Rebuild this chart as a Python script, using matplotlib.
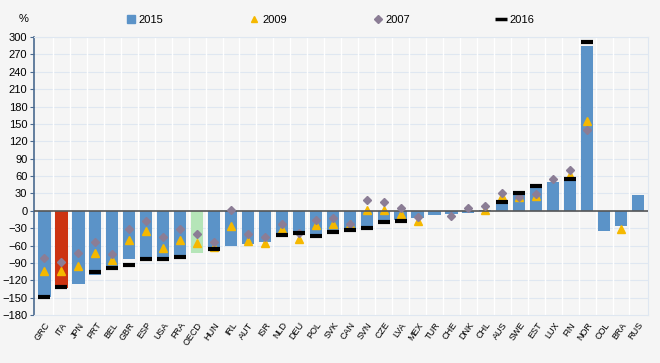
import matplotlib.pyplot as plt
import numpy as np
from matplotlib.lines import Line2D

# Data
countries = ['GRC', 'ITA', 'JPN', 'PRT', 'BEL', 'GBR', 'ESP', 'USA', 'FRA', 'OECD',
    'HUN', 'IRL', 'AUT', 'ISR', 'NLD', 'DEU', 'POL', 'SVK', 'CAN', 'SVN', 'CZE',
    'LVA', 'MEX', 'TUR', 'CHE', 'DNK', 'CHL', 'AUS', 'SWE', 'EST', 'LUX', 'FIN',
    'NOR', 'COL', 'BRA', 'RUS']
v2015 = [-148, -133, -126, -110, -99, -83, -84, -83, -77, -72,
    -68, -60, -58, -53, -42, -39, -41, -35, -32, -26, -20,
    -16, -13, -8, -6, -4, 2, 14, 29, 42, 49, 54,
    285, -34, -27, 27]
v2009 = [-104, -104, -96, -72, -85, -51, -35, -64, -51, -56,
    -62, -26, -52, -56, -31, -48, -24, -23, -23, 1, 2,
    -6, -18, None, None, None, 2, 25, 23, 25, None, 61,
    155, None, -32, None]
v2007 = [-81, -89, -73, -54, -74, -32, -17, -45, -32, -40,
    -53, 1, -40, -45, -23, -38, -15, -13, -23, 19, 16,
    5, -10, None, -9, 5, 8, 30, 23, 29, 55, 71,
    140, None, None, None]
v2016 = [-148, -132, None, -106, -99, -94, -84, -83, -80, None,
    -66, None, None, None, -42, -39, -43, -36, -33, -29, -19,
    -17, None, None, None, None, None, 16, 31, 43, None, 55,
    291, None, None, None]

def arr(v):
    return np.array([np.nan if a is None else a for a in v], dtype=float)

bg = '#f5f5f5'
c_bar = '#5b93c8'
c_tri = '#f5b800'
c_dia = '#8b7d95'

plt.rcParams['font.family'] = ['Liberation Sans', 'DejaVu Sans']

fig = plt.figure(figsize=(6.6, 3.63), dpi=100, facecolor=bg)
ax = fig.add_axes([0.052, 0.132, 0.93, 0.766], facecolor=bg)

x = np.arange(len(countries))
colors = [c_bar] * len(countries)
colors[countries.index('ITA')] = '#cc3311'
colors[countries.index('OECD')] = '#b5e5b8'
ax.bar(x, v2015, width=0.72, color=colors, zorder=2)
ax.plot(x, arr(v2009), '^', color=c_tri, markersize=5.5, zorder=3, linestyle='none')
ax.plot(x, arr(v2007), 'D', color=c_dia, markersize=4.3, zorder=4, linestyle='none')
ax.plot(x, arr(v2016), '_', color='black', markersize=9, markeredgewidth=3,
    zorder=5, linestyle='none')

ax.axhline(0, color='#555555', lw=1.2, zorder=3)
ax.set_ylim(-180, 300)
ax.set_yticks(np.arange(-180, 301, 30))
ax.set_xlim(-0.6, len(countries) - 0.4)
ax.set_xticks(x)
ax.set_xticklabels(countries, rotation=55, ha='right', rotation_mode='anchor',
    fontsize=6.5)
ax.tick_params(axis='y', labelsize=8, length=3, color='#4a6a90', pad=2)
ax.tick_params(axis='x', length=0, pad=4)

for y in np.arange(-150, 301, 30):
    ax.axhline(y, color='#dfe7f1', lw=0.8, zorder=0)
for xb in x[:-1] + 0.5:
    ax.axvline(xb, color='white', lw=1.0, zorder=1)

for s in ['top', 'right', 'bottom']:
    ax.spines[s].set_color('#dfe7f1')
ax.spines['left'].set_color('#4a6a90')
ax.spines['left'].set_linewidth(1.2)

fig.text(0.028, 0.94, '%', fontsize=8)

handles = [
    Line2D([], [], marker='s', color=c_bar, linestyle='none', markersize=6),
    Line2D([], [], marker='^', color=c_tri, linestyle='none', markersize=5),
    Line2D([], [], marker='D', color=c_dia, linestyle='none', markersize=4),
    Line2D([], [], marker='_', color='black', linestyle='none', markersize=8,
        markeredgewidth=2.5),
]
fig.legend(handles, ['2015', '2009', '2007', '2016'], loc='center',
    bbox_to_anchor=(0.5, 0.945), ncol=4, frameon=False, fontsize=8,
    columnspacing=7.8, handlelength=0.8, handletextpad=0.3)

fig.savefig('out.png', dpi=100, facecolor=bg)
